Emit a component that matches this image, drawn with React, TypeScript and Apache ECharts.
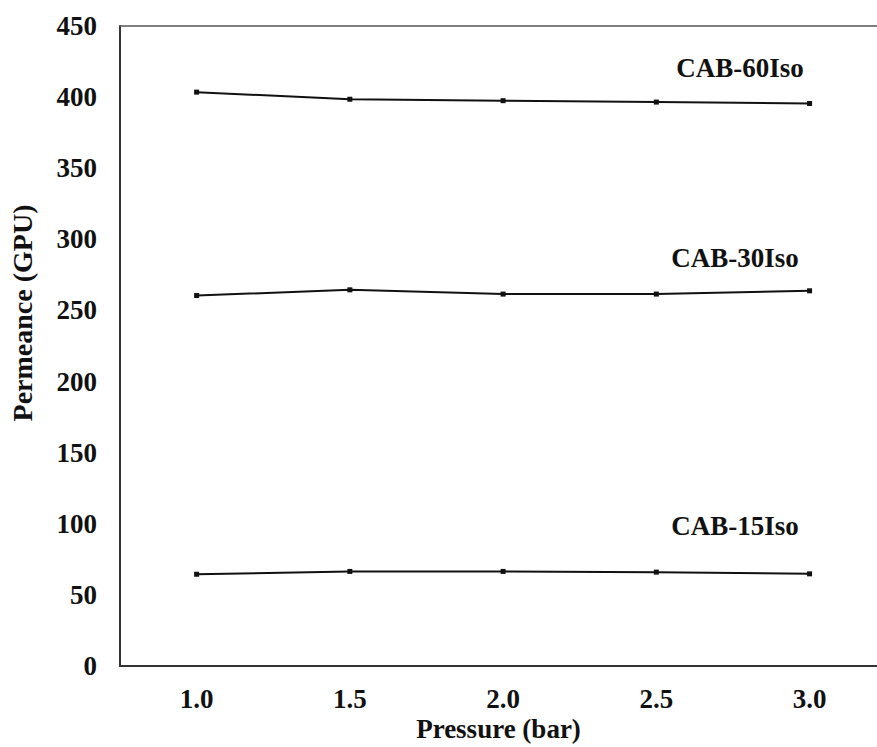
import React, { useEffect, useRef } from "react";
import * as echarts from "echarts";

const pressures = [1.0, 1.5, 2.0, 2.5, 3.0];
const cab60 = [403.5, 398.5, 397.5, 396.5, 395.5];
const cab30 = [260.5, 264.5, 261.5, 261.5, 263.8];
const cab15 = [64.5, 66.5, 66.5, 66.0, 64.8];
const seriesNames = ["CAB-60Iso", "CAB-30Iso", "CAB-15Iso"];
const labelAnchors = [
  [2.773, 420.5],
  [2.757, 287.2],
  [2.757, 98.3],
];

const FONT = "Liberation Serif";

export default function App() {
  const ref = useRef<HTMLDivElement>(null);
  useEffect(() => {
    if (!ref.current) return;
    const chart = echarts.init(ref.current, null, { renderer: "svg" });
    const all = [cab60, cab30, cab15];
    const series = all.map((vals, i) => ({
      name: seriesNames[i],
      type: "line",
      data: pressures.map((p, j) => [p, vals[j]]),
      symbol: "rect",
      symbolSize: [5, 5],
      itemStyle: { color: "#111" },
      lineStyle: { color: "#111", width: 2 },
      markPoint: {
        symbol: "circle",
        symbolSize: 1,
        itemStyle: { color: "rgba(0,0,0,0)" },
        label: {
          show: true,
          position: "inside",
          formatter: seriesNames[i],
          fontFamily: FONT,
          fontWeight: "bold",
          fontSize: 27,
          color: "#111",
        },
        data: [{ coord: labelAnchors[i], value: seriesNames[i] }],
      },
    }));
    const labelFmt = (v: number) =>
      Math.abs(v * 2 - Math.round(v * 2)) < 1e-6 && v >= 1 && v <= 3
        ? v.toFixed(1)
        : "";
    chart.setOption({
      animation: false,
      backgroundColor: "#fff",
      grid: {
        left: 120,
        top: 26,
        right: 0,
        bottom: 80,
      },
      xAxis: [
        {
          type: "value",
          min: 0.75,
          max: 3.22,
          interval: 0.25,
          axisLine: { show: true, onZero: false, lineStyle: { color: "#333", width: 2 } },
          axisTick: { show: false },
          splitLine: { show: false },
          axisLabel: {
            margin: 19,
            fontFamily: FONT,
            fontWeight: "bold",
            fontSize: 27,
            color: "#111",
            showMaxLabel: false,
            formatter: labelFmt,
          },
          name: "Pressure (bar)",
          nameLocation: "middle",
          nameGap: 49,
          nameMoveOverlap: false,
          nameTextStyle: {
            fontFamily: FONT,
            fontWeight: "bold",
            fontSize: 27,
            color: "#111",
          },
        },
        {
          type: "value",
          position: "top",
          min: 0.75,
          max: 3.22,
          interval: 0.25,
          axisLine: { show: true, onZero: false, lineStyle: { color: "#555", width: 1.5 } },
          axisTick: { show: false },
          axisLabel: { show: false },
          splitLine: { show: false },
        },
      ],
      yAxis: {
        type: "value",
        min: 0,
        max: 450,
        interval: 50,
        axisLine: { show: true, lineStyle: { color: "#333", width: 2 } },
        axisTick: { show: false },
        splitLine: { show: false },
        axisLabel: {
          margin: 23,
          fontFamily: FONT,
          fontWeight: "bold",
          fontSize: 27,
          color: "#111",
        },
      },
      graphic: [
        {
          type: "text",
          x: 22,
          y: 313,
          rotation: Math.PI / 2,
          style: {
            text: "Permeance (GPU)",
            fontFamily: FONT,
            fontWeight: "bold",
            fontSize: 28,
            fill: "#111",
            textAlign: "center",
            textVerticalAlign: "middle",
          },
        },
      ],
      series,
    });
    return () => chart.dispose();
  }, []);
  return (
    <div
      ref={ref}
      style={{ position: "fixed", left: 0, top: 0, width: 877, height: 747 }}
    />
  );
}
